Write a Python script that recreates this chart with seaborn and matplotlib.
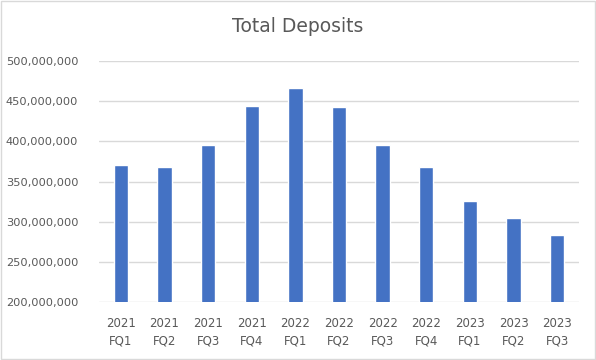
import matplotlib
matplotlib.use('Agg')
import matplotlib.pyplot as plt
import matplotlib.ticker as mticker
import seaborn as sns
import pandas as pd

quarters = ['2021\nFQ1', '2021\nFQ2', '2021\nFQ3', '2021\nFQ4',
            '2022\nFQ1', '2022\nFQ2', '2022\nFQ3', '2022\nFQ4',
            '2023\nFQ1', '2023\nFQ2', '2023\nFQ3']
deposits = [370e6, 368.5e6, 395e6, 443.5e6, 466e6, 442.5e6,
            396e6, 367.5e6, 326e6, 304e6, 284e6]

df = pd.DataFrame({'Quarter': quarters, 'Deposits': deposits})

sns.set_theme(style='white')
plt.rcParams['font.family'] = ['DejaVu Sans']

fig = plt.figure(figsize=(5.96, 3.6), dpi=100)
ax = fig.add_axes([99 / 596, 58 / 360, 480 / 596, 241 / 360])

sns.barplot(data=df, x='Quarter', y='Deposits', color='#4472C4',
            width=0.33, saturation=1, ax=ax)

ax.set_ylim(200e6, 500e6)
ax.yaxis.set_major_locator(mticker.MultipleLocator(50e6))
ax.yaxis.set_major_formatter(mticker.StrMethodFormatter('{x:,.0f}'))
ax.grid(axis='y', color='#D9D9D9', linewidth=1)
ax.set_axisbelow(True)
for s in ['top', 'right', 'left', 'bottom']:
    ax.spines[s].set_visible(False)
ax.set_xlabel('')
ax.set_ylabel('')
ax.tick_params(axis='both', length=0, labelsize=8.5, colors='#595959')
ax.tick_params(axis='y', pad=15, labelsize=8.2)
ax.tick_params(axis='x', pad=11)
for lbl in ax.get_xticklabels():
    lbl.set_linespacing(1.45)

fig.text(0.5, 1 - 27 / 360, 'Total Deposits', ha='center', va='center',
         fontsize=13.5, color='#595959')

border = plt.Rectangle((0.001, 0.002), 0.997, 0.995, transform=fig.transFigure,
                       fill=False, edgecolor='#D9D9D9', linewidth=1)
fig.patches.append(border)

fig.savefig('out.png', dpi=100)
